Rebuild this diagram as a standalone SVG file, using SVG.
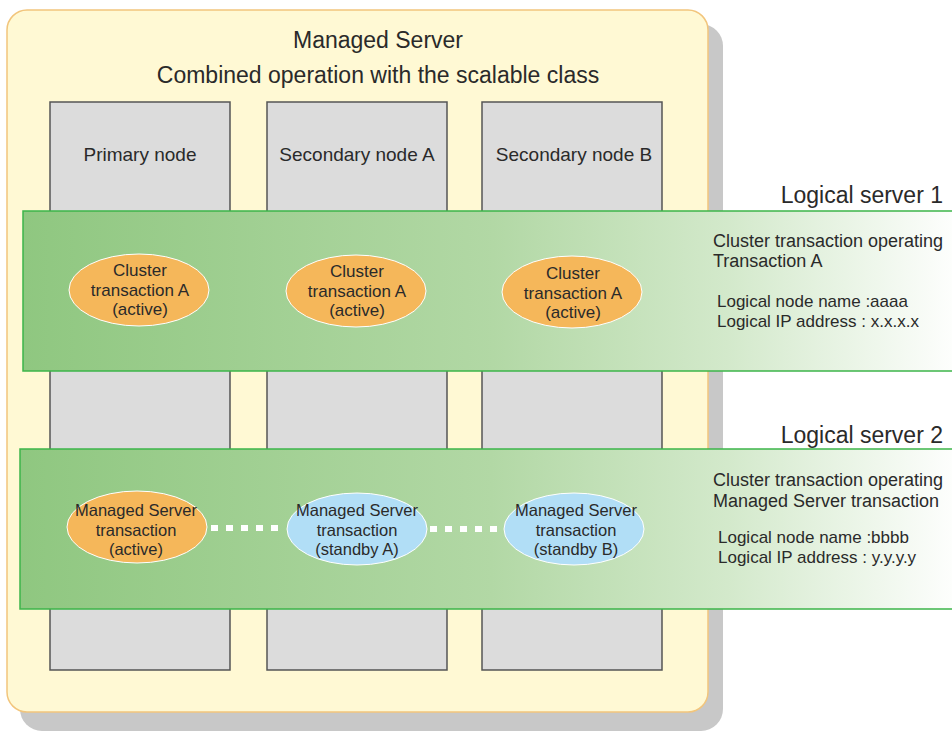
<svg xmlns="http://www.w3.org/2000/svg" width="952" height="731" viewBox="0 0 952 731">
<defs>
<linearGradient id="band" x1="0" y1="0" x2="1" y2="0">
<stop offset="0" stop-color="#8fc780"/>
<stop offset="0.5" stop-color="#b2d8a5"/>
<stop offset="0.75" stop-color="#d3e9cb"/>
<stop offset="1" stop-color="#ffffff"/>
</linearGradient>
<style>
text{font-family:"Liberation Sans",Arial,sans-serif;fill:#2a2a2a}
.title{font-size:23px;text-anchor:middle}
.hdr{font-size:19px;text-anchor:middle}
.ls{font-size:23px;text-anchor:end}
.info{font-size:18px}
.info2{font-size:17px}
.el{font-size:17px;text-anchor:middle}
.el2{font-size:16.5px;text-anchor:middle}
.node{fill:#dcdcdc;stroke:#555;stroke-width:1.5}
.band{fill:url(#band);stroke:#3db54a;stroke-width:1.5}
.act{fill:#f5b75a;stroke:#fff;stroke-width:1}
.stb{fill:#b1def6;stroke:#fff;stroke-width:1}
.dot{stroke:#fff;stroke-width:6;stroke-dasharray:7 8;fill:none}
</style>
</defs>
<rect width="952" height="731" fill="#fff"/>
<g id="managed-server">
<rect x="20" y="24" width="703" height="707" rx="22" fill="#c8c8c8"/>
<rect x="7" y="10" width="701" height="702" rx="20" fill="#fff9d4" stroke="#f2c57c" stroke-width="1.5"/>
<text class="title" x="378" y="48">Managed Server</text>
<text class="title" x="378" y="83">Combined operation with the scalable class</text>
</g>
<g id="primary-node">
<rect class="node" x="50" y="102" width="180" height="568"/>
<text class="hdr" x="140" y="161">Primary node</text>
</g>
<g id="secondary-node-a">
<rect class="node" x="267" y="102" width="180" height="568"/>
<text class="hdr" x="357" y="161">Secondary node A</text>
</g>
<g id="secondary-node-b">
<rect class="node" x="482" y="102" width="180" height="568"/>
<text class="hdr" x="574" y="161">Secondary node B</text>
</g>
<g id="logical-server-1">
<text class="ls" x="943" y="203">Logical server 1</text>
<rect class="band" x="23" y="211" width="940" height="160"/>
<text class="info" x="713" y="247">Cluster transaction operating</text>
<text class="info" x="713" y="267">Transaction A</text>
<text class="info2" x="717" y="307">Logical node name :aaaa</text>
<text class="info2" x="717" y="327">Logical IP address : x.x.x.x</text>
</g>
<g id="logical-server-2">
<text class="ls" x="943" y="443">Logical server 2</text>
<rect class="band" x="20" y="449" width="943" height="160"/>
<text class="info" x="713" y="486">Cluster transaction operating</text>
<text class="info" x="713" y="507">Managed Server transaction</text>
<text class="info2" x="718" y="543">Logical node name :bbbb</text>
<text class="info2" x="718" y="563">Logical IP address : y.y.y.y</text>
</g>
<g id="connectors">
<line class="dot" x1="211" y1="528" x2="286" y2="528"/>
<line class="dot" x1="430" y1="529" x2="505" y2="529"/>
</g>
<g id="cta-primary">
<ellipse class="act" cx="139" cy="290" rx="70" ry="36"/>
<text class="el" x="140" y="276">Cluster</text>
<text class="el" x="140" y="296">transaction A</text>
<text class="el" x="140" y="315">(active)</text>
</g>
<g id="cta-secondary-a">
<ellipse class="act" cx="356" cy="291" rx="70" ry="36"/>
<text class="el" x="357" y="277">Cluster</text>
<text class="el" x="357" y="297">transaction A</text>
<text class="el" x="357" y="316">(active)</text>
</g>
<g id="cta-secondary-b">
<ellipse class="act" cx="572" cy="292" rx="70" ry="36"/>
<text class="el" x="573" y="279">Cluster</text>
<text class="el" x="573" y="299">transaction A</text>
<text class="el" x="573" y="318">(active)</text>
</g>
<g id="mst-active">
<ellipse class="act" cx="137" cy="527" rx="70" ry="36"/>
<text class="el2" x="136" y="516">Managed Server</text>
<text class="el2" x="136" y="536">transaction</text>
<text class="el2" x="136" y="555">(active)</text>
</g>
<g id="mst-standby-a">
<ellipse class="stb" cx="357" cy="529" rx="70" ry="36"/>
<text class="el2" x="357" y="516">Managed Server</text>
<text class="el2" x="357" y="536">transaction</text>
<text class="el2" x="357" y="555">(standby A)</text>
</g>
<g id="mst-standby-b">
<ellipse class="stb" cx="574" cy="529" rx="70" ry="36"/>
<text class="el2" x="576" y="516">Managed Server</text>
<text class="el2" x="576" y="536">transaction</text>
<text class="el2" x="576" y="555">(standby B)</text>
</g>
</svg>
